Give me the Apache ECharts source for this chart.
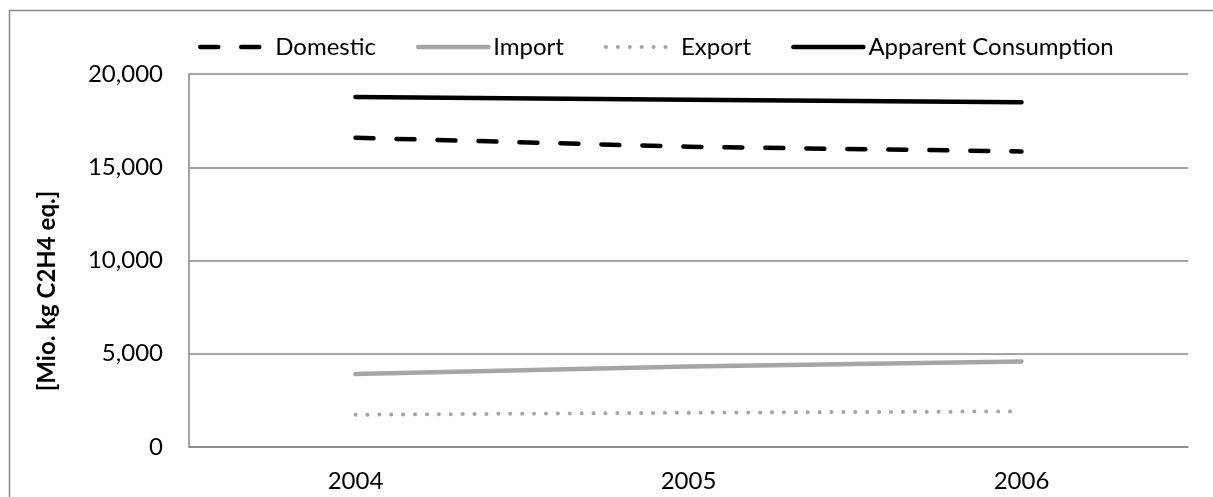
<!DOCTYPE html>
<html>
<head>
<meta charset="utf-8">
<script src="https://cdn.jsdelivr.net/npm/echarts@6/dist/echarts.min.js"></script>
<style>
  html, body { margin: 0; padding: 0; background: #ffffff; }
  #chart { width: 1213px; height: 497px; }
</style>
</head>
<body>
<div id="chart"></div>
<script>
// Years on the category axis
const years = ['2004', '2005', '2006'];

// Series values, Mio. kg C2H4 eq.
const domestic = [16580, 16100, 15850];
const importValues = [3910, 4320, 4590];
const exportValues = [1730, 1840, 1910];
const apparentConsumption = [18770, 18620, 18480];

// Value axis ticks
const yMin = 0;
const yMax = 20000;
const yStep = 5000;

const FONT = 'Lato, "Open Sans", sans-serif';
const GRID_GRAY = '#868686';

const chart = echarts.init(document.getElementById('chart'), null, { renderer: 'canvas' });

function lineSeries(name, data, color, width, dash) {
  return {
    name: name,
    type: 'line',
    data: data,
    symbol: 'none',
    smooth: false,
    lineStyle: { color: color, width: width, type: dash || 'solid', cap: 'round', join: 'round' },
    itemStyle: { color: color },
    emphasis: { disabled: true },
    z: 3
  };
}

chart.setOption({
  animation: false,
  backgroundColor: '#ffffff',
  textStyle: { fontFamily: FONT },
  grid: { left: 189, right: 25, top: 74, bottom: 50, containLabel: false },
  legend: {
    left: 193,
    top: 30,
    itemWidth: 70,
    itemHeight: 14,
    itemGap: 40,
    // line-only keys: keep the series stroke, hide the point marker
    lineStyle: { width: 'inherit', type: 'inherit', color: 'inherit', cap: 'round' },
    itemStyle: { color: 'rgba(0,0,0,0)', opacity: 0, borderWidth: 0 },
    textStyle: { fontFamily: FONT, fontSize: 24, color: '#000000' },
    data: ['Domestic', 'Import', 'Export', 'Apparent Consumption']
  },
  xAxis: {
    type: 'category',
    data: years,
    boundaryGap: true,
    axisLine: { show: true, lineStyle: { color: GRID_GRAY, width: 1.5 } },
    axisTick: { show: false },
    axisLabel: { fontFamily: FONT, fontSize: 24, color: '#000000', margin: 22 },
    splitLine: { show: false }
  },
  yAxis: {
    type: 'value',
    min: yMin,
    max: yMax,
    interval: yStep,
    axisLine: { show: true, lineStyle: { color: GRID_GRAY, width: 1.5 } },
    axisTick: { show: false },
    axisLabel: {
      fontFamily: FONT, fontSize: 24, color: '#000000', margin: 26,
      formatter: v => v.toLocaleString('en-US')
    },
    splitLine: { show: true, lineStyle: { color: GRID_GRAY, width: 1.5 } }
  },
  graphic: [
    {
      type: 'rect',
      left: 7, top: 8,
      shape: { x: 0, y: 0, width: 1300, height: 600 },
      style: { fill: 'none', stroke: GRID_GRAY, lineWidth: 1.5 },
      silent: true, z: -1
    },
    {
      type: 'text',
      x: 47, y: 291,
      rotation: Math.PI / 2,
      style: {
        text: '[Mio. kg C2H4 eq.]',
        fontFamily: FONT, fontSize: 24, fontWeight: 'bold', fill: '#000000',
        align: 'center', verticalAlign: 'middle'
      },
      silent: true
    }
  ],
  series: [
    lineSeries('Domestic', domestic, '#000000', 4.5, [18, 23]),
    lineSeries('Import', importValues, '#a5a5a5', 4.5),
    lineSeries('Export', exportValues, '#a5a5a5', 4, [0.1, 11.8]),
    lineSeries('Apparent Consumption', apparentConsumption, '#000000', 4.5)
  ]
});
</script>
</body>
</html>
